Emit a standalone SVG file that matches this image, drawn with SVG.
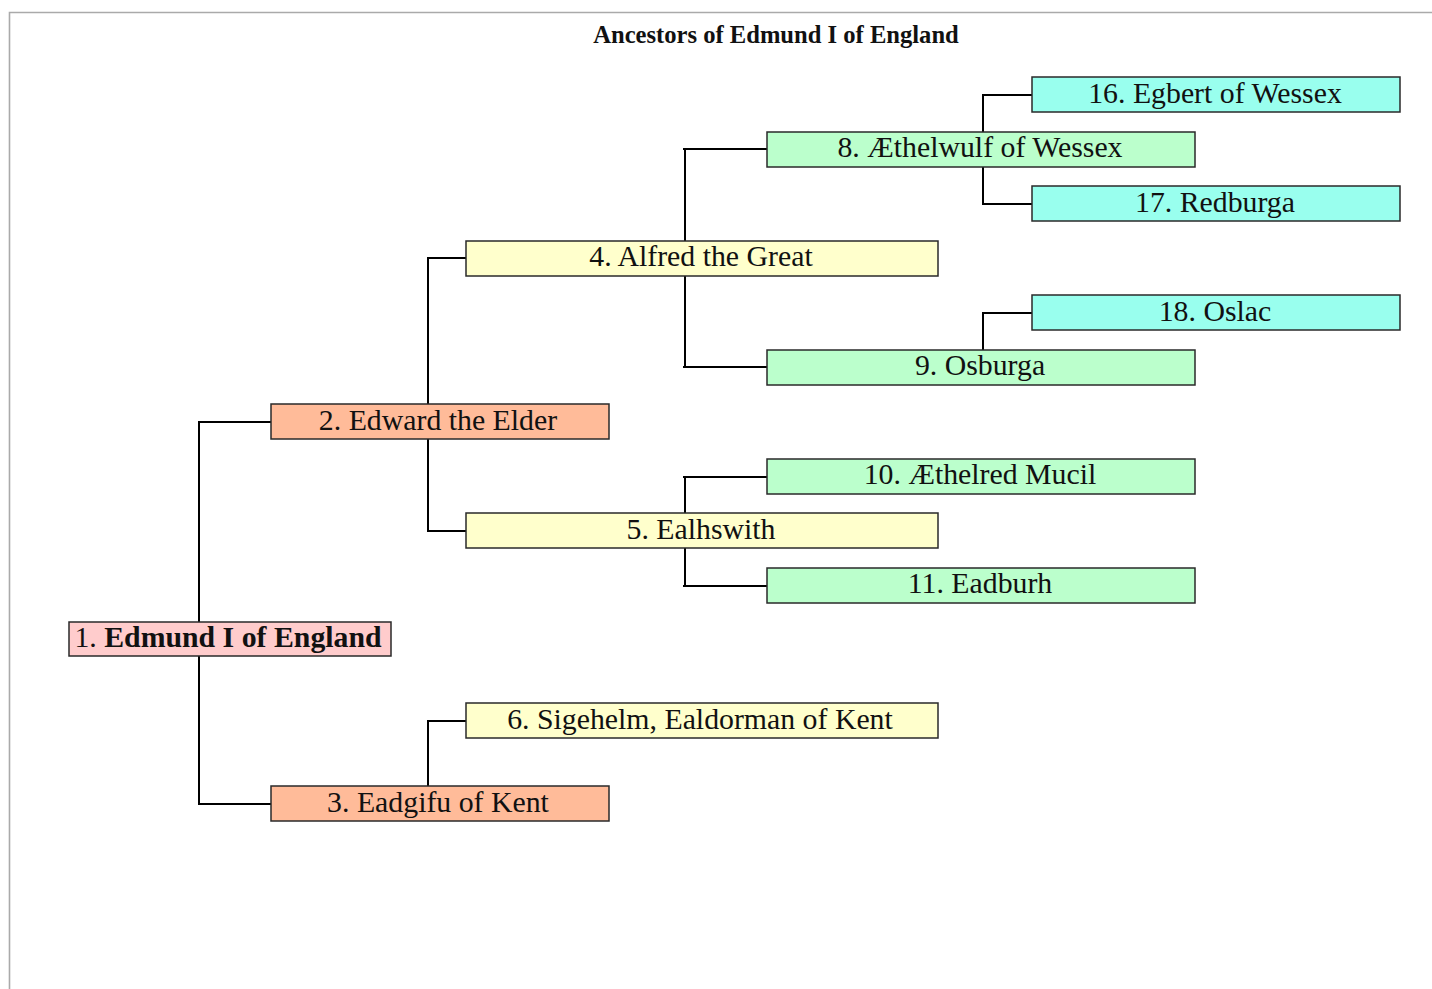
<svg xmlns="http://www.w3.org/2000/svg" width="1432" height="989" viewBox="0 0 1432 989">
<style>
.t{font-family:"Liberation Serif","Times New Roman",serif;font-size:29.8px;fill:#111;text-anchor:middle}
.b{stroke:#2a2a2a;stroke-width:1.5}
.c1{fill:#ffcccc}.c2{fill:#ffbb99}.c3{fill:#ffffcc}.c4{fill:#bbffcc}.c5{fill:#99ffee}
.ln{fill:none;stroke:#000;stroke-width:2}
</style>
<rect width="1432" height="989" fill="#fff"/>
<path d="M9.5 989V12.5H1432" fill="none" stroke="#aaa" stroke-width="1.6"/>
<text x="776" y="43" font-family="Liberation Serif,Times New Roman,serif" font-size="24.6" font-weight="bold" text-anchor="middle" fill="#111">Ancestors of Edmund I of England</text>
<g id="connectors" class="ln">
<path d="M271 422H199V804H271"/>
<path d="M466 258H428V531H466"/>
<path d="M466 721H428V786"/>
<path d="M767 149H683M685 149V367M683 367H767"/>
<path d="M767 477H683M685 477V586M683 586H767"/>
<path d="M1032 95H983V204H1032"/>
<path d="M1032 313H983V350"/>
</g>
<g id="n16"><rect class="b c5" x="1032" y="77" width="368" height="35"/><text class="t" x="1215" y="103">16. Egbert of Wessex</text></g>
<g id="n8"><rect class="b c4" x="767" y="132" width="428" height="35"/><text class="t" x="980" y="157">8. Æthelwulf of Wessex</text></g>
<g id="n17"><rect class="b c5" x="1032" y="186" width="368" height="35"/><text class="t" x="1215" y="212">17. Redburga</text></g>
<g id="n4"><rect class="b c3" x="466" y="241" width="472" height="35"/><text class="t" x="701" y="266">4. Alfred the Great</text></g>
<g id="n18"><rect class="b c5" x="1032" y="295" width="368" height="35"/><text class="t" x="1215" y="321">18. Oslac</text></g>
<g id="n9"><rect class="b c4" x="767" y="350" width="428" height="35"/><text class="t" x="980" y="375">9. Osburga</text></g>
<g id="n2"><rect class="b c2" x="271" y="404" width="338" height="35"/><text class="t" x="438" y="430">2. Edward the Elder</text></g>
<g id="n10"><rect class="b c4" x="767" y="459" width="428" height="35"/><text class="t" x="980" y="484">10. Æthelred Mucil</text></g>
<g id="n5"><rect class="b c3" x="466" y="513" width="472" height="35"/><text class="t" x="701" y="539">5. Ealhswith</text></g>
<g id="n11"><rect class="b c4" x="767" y="568" width="428" height="35"/><text class="t" x="980" y="593">11. Eadburh</text></g>
<g id="n1"><rect class="b c1" x="69" y="622" width="322" height="34"/><text class="t" x="228" y="647">1. <tspan font-weight="bold">Edmund I of England</tspan></text></g>
<g id="n6"><rect class="b c3" x="466" y="703" width="472" height="35"/><text class="t" x="700" y="729">6. Sigehelm, Ealdorman of Kent</text></g>
<g id="n3"><rect class="b c2" x="271" y="786" width="338" height="35"/><text class="t" x="438" y="812">3. Eadgifu of Kent</text></g>
</svg>
